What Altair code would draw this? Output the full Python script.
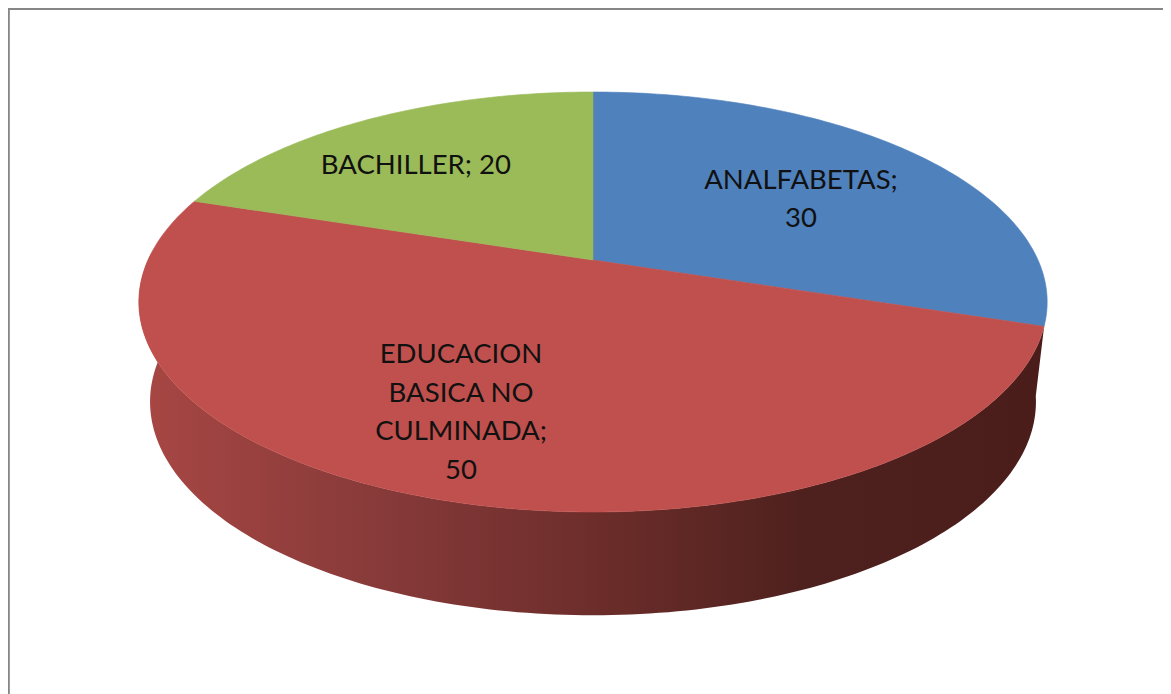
import math
import altair as alt
import pandas as pd

categories = ["ANALFABETAS", "EDUCACION BASICA NO CULMINADA", "BACHILLER"]
values = [30, 50, 20]
label_lines = ["ANALFABETAS;\n30", "EDUCACION\nBASICA NO\nCULMINADA;\n50", "BACHILLER; 20"]
colors = ["#4f81bd", "#c0504d", "#9bbb59"]
# where each label sits on the unit disc (before the tilt is applied)
label_disc_x = [0.497, -0.2575, -0.439]
label_disc_y = [0.317, -0.659, 0.514]

W, H = 1155, 686
OFF = 8          # page margin
LINE_H = 38.5


def project(X, Y, a=445.0, b=201.6, y0=260.0, k=0.2, cx=593.0):
    d = 1 + k * Y
    return cx + a * X / d - OFF, y0 - b * Y / d - OFF


def rim(t0, t1, **kw):
    n = max(2, int(abs(t1 - t0)))
    pts = []
    for i in range(n + 1):
        t = math.radians(t0 + (t1 - t0) * i / n)
        pts.append(project(math.sin(t), math.cos(t), **kw))
    return pts


def poly(points):
    return pd.DataFrame({"x": [p[0] for p in points], "y": [p[1] for p in points],
                         "i": list(range(len(points)))})


x_enc = alt.X("x:Q", axis=None, scale=alt.Scale(domain=[0, W], nice=False, zero=False))
y_enc = alt.Y("y:Q", axis=None, scale=alt.Scale(domain=[0, H], reverse=True, nice=False, zero=False))


def shape(points, fill, stroke=None):
    m = alt.Chart(poly(points)).mark_line(
        fill=fill,
        stroke=stroke if stroke else "transparent",
        strokeWidth=0.6,
        clip=False,
        interpolate="linear",
    )
    return m.encode(x=x_enc, y=y_enc, order=alt.Order("i:Q"))


total = sum(values)
angles = [0]
for v in values:
    angles.append(angles[-1] + 360 * v / total)

bottom = dict(a=434.0, b=205.0, y0=359.0)
side_end = angles[1]
wall = rim(side_end - 8, 272, **bottom) + rim(272, side_end)
side_grad = alt.Gradient(
    gradient="linear", x1=0, x2=1, y1=0, y2=0,
    stops=[
        alt.GradientStop(color="#a84744", offset=0.0),
        alt.GradientStop(color="#843938", offset=0.29),
        alt.GradientStop(color="#6c2d2a", offset=0.51),
        alt.GradientStop(color="#4f211e", offset=0.73),
        alt.GradientStop(color="#4a1d1b", offset=1.0),
    ],
)
layers = [shape(wall, side_grad)]

apex = project(0, 0)
for c, t0, t1 in zip(colors, angles[:-1], angles[1:]):
    layers.append(shape([apex] + rim(t0, t1) + [apex], c, c))

lab = []
for txt, lx, ly in zip(label_lines, label_disc_x, label_disc_y):
    px, py = project(lx, ly)
    lab.append({"x": px, "y": py - (txt.count("\n")) * LINE_H / 2, "t": txt})
layers.append(
    alt.Chart(pd.DataFrame(lab)).mark_text(
        font="Lato", fontSize=27.5, color="#111111", lineBreak="\n", lineHeight=LINE_H,
        align="center", baseline="middle",
    ).encode(x=x_enc, y=y_enc, text="t:N")
)

# chart frame
frame_top = pd.DataFrame({"x": [0], "x2": [W], "y": [0.9]})
frame_left = pd.DataFrame({"x": [0.6], "y": [0], "y2": [H]})
layers.append(alt.Chart(frame_top).mark_rule(color="#868686", strokeWidth=2.4).encode(
    x=x_enc, x2="x2:Q", y=y_enc))
layers.append(alt.Chart(frame_left).mark_rule(color="#868686", strokeWidth=2.4).encode(
    x=x_enc, y=y_enc, y2="y2:Q"))

chart = alt.layer(*layers).properties(
    width=W, height=H, padding=0,
    autosize=alt.AutoSizeParams(type="none"),
    background="white",
).configure_view(stroke=None)

chart.save("out.html", embed_options={"renderer": "svg", "actions": False})
